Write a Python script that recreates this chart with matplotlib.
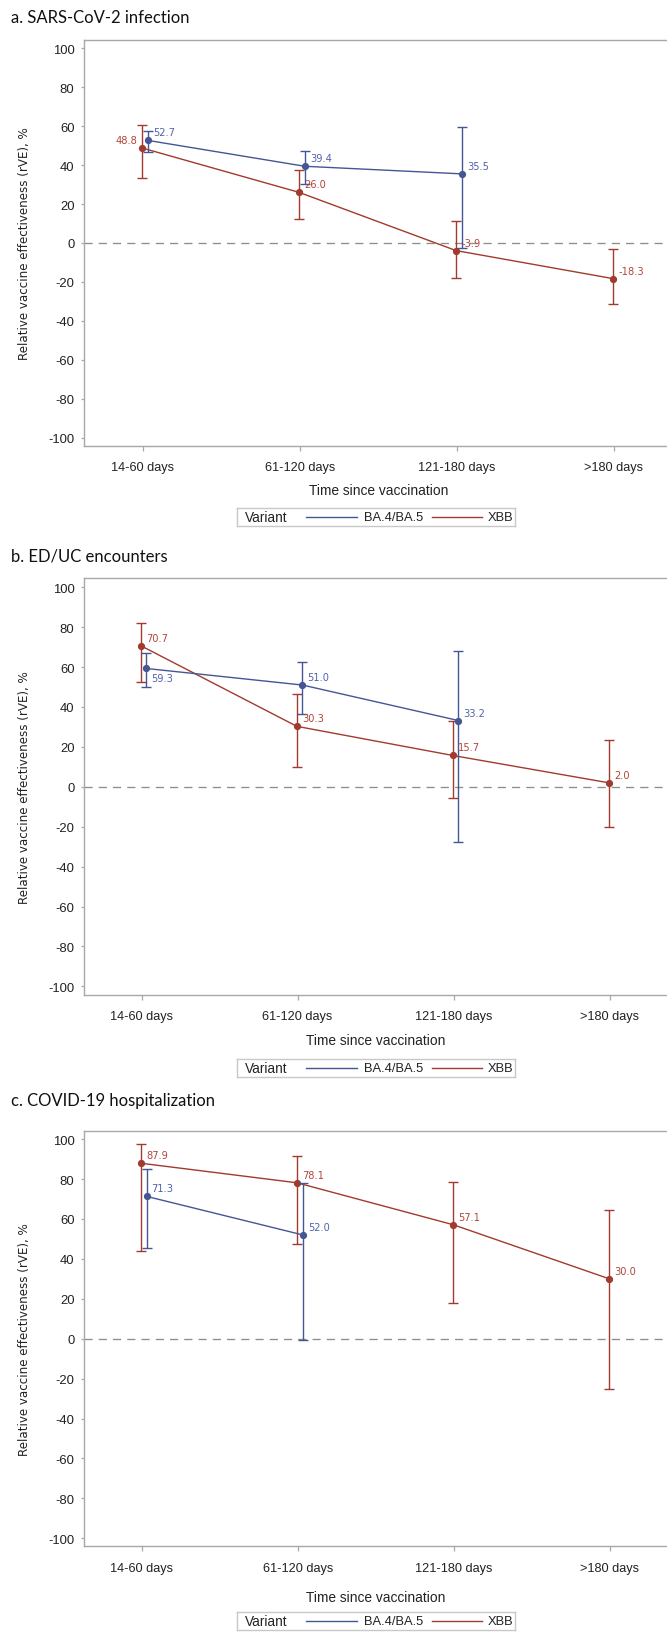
import matplotlib
matplotlib.use("Agg")
import matplotlib.pyplot as plt
import numpy as np
from matplotlib.lines import Line2D

# ---------------- data ----------------
categories = ["14-60 days", "61-120 days", "121-180 days", ">180 days"]
series_names = ["BA.4/BA.5", "XBB"]

titles = ["a. SARS-CoV-2 infection", "b. ED/UC encounters", "c. COVID-19 hospitalization"]

# Panel a
ba_a = [52.7, 39.4, 35.5]
ba_a_lo = [46.9, 30.2, -2.7]
ba_a_hi = [57.5, 47.4, 59.5]
xbb_a = [48.8, 26.0, -3.9, -18.3]
xbb_a_lo = [33.5, 12.1, -18.1, -31.3]
xbb_a_hi = [60.4, 37.5, 11.2, -3.1]

# Panel b
ba_b = [59.3, 51.0, 33.2]
ba_b_lo = [50.0, 36.5, -27.8]
ba_b_hi = [67.1, 62.5, 68.0]
xbb_b = [70.7, 30.3, 15.7, 2.0]
xbb_b_lo = [52.4, 9.8, -5.7, -19.9]
xbb_b_hi = [82.0, 46.5, 33.1, 23.7]

# Panel c
ba_c = [71.3, 52.0]
ba_c_lo = [45.2, -0.5]
ba_c_hi = [85.2, 77.8]
xbb_c = [87.9, 78.1, 57.1, 30.0]
xbb_c_lo = [43.9, 47.6, 17.8, -25.2]
xbb_c_hi = [97.6, 91.7, 78.3, 64.4]

yticks = list(range(-100, 101, 20))

# ---------------- style / layout ----------------
W, H, DPI = 667, 1633, 100
BLUE = "#445694"
RED = "#A23A2E"
BLUE_TXT = "#5163A8"
RED_TXT = "#B0463B"
GRID = "#A8A8A8"
TXT = "#222222"

fig = plt.figure(figsize=(W / DPI, H / DPI), dpi=DPI)
fig.patch.set_facecolor("white")


def box(l, t, r, b):
    return [l / W, 1 - b / H, (r - l) / W, (b - t) / H]


panels = [
    dict(data=(ba_a, ba_a_lo, ba_a_hi, xbb_a, xbb_a_lo, xbb_a_hi),
         top=40.7, bottom=446.7, tick0=142.7, step=157.0, ylim=(-104.1, 104.4),
         title_y=18, ticklab_y=468, xlab_y=491, leg=(509, 527),
         ba_pos=["ur", "ur", "ur"], xbb_pos=["ul", "ur", "ur", "ur"]),
    dict(data=(ba_b, ba_b_lo, ba_b_hi, xbb_b, xbb_b_lo, xbb_b_hi),
         top=579.3, bottom=995.7, tick0=141.5, step=156.0, ylim=(-104.2, 104.5),
         title_y=556, ticklab_y=1017.5, xlab_y=1041, leg=(1060, 1078),
         ba_pos=["lr", "ur", "ur"], xbb_pos=["ur", "ur", "ur", "ur"]),
    dict(data=(ba_c, ba_c_lo, ba_c_hi, xbb_c, xbb_c_lo, xbb_c_hi),
         top=1131.7, bottom=1546.7, tick0=141.6, step=156.1, ylim=(-103.7, 104.2),
         title_y=1101, ticklab_y=1569, xlab_y=1598, leg=(1613, 1631),
         ba_pos=["ur", "ur"], xbb_pos=["ur", "ur", "ur", "ur"]),
]

AX_LEFT = 84.0
BA_OFF = 0.032  # cluster offset of BA.4/BA.5 markers (category units)

OFFS = {"ur": (3.6, 5.8, "left"), "lr": (3.6, -7.2, "left"), "ul": (-3.2, 5.6, "right")}


def label_points(ax, xs, vals, pos, color):
    for xi, v, p in zip(xs, vals, pos):
        dx, dy, ha = OFFS[p]
        ax.annotate(f"{v:.1f}", (xi, v), xytext=(dx, dy), textcoords="offset points",
                    ha=ha, va="center", fontsize=7.1, color=color,
                    family="DejaVu Sans", zorder=6)


for i, p in enumerate(panels):
    ba, ba_lo, ba_hi, xbb, xbb_lo, xbb_hi = p["data"]
    left_off = (p["tick0"] - AX_LEFT) / p["step"]
    xmin, xmax = -left_off, 3 + left_off
    right_px = AX_LEFT + (xmax - xmin) * p["step"]
    ax = fig.add_axes(box(AX_LEFT, p["top"], right_px, p["bottom"]))
    ax.set_xlim(xmin, xmax)
    ax.set_ylim(*p["ylim"])

    ax.axhline(0, color="#8E8E8E", lw=0.95, ls=(0, (6.2, 4.6)), zorder=1)

    xb = np.arange(len(ba)) + BA_OFF
    ba_arr = np.array(ba)
    ax.errorbar(xb, ba_arr, yerr=[ba_arr - np.array(ba_lo), np.array(ba_hi) - ba_arr],
                fmt="-o", color=BLUE, ms=4.2, lw=1.0, elinewidth=1.0,
                capsize=3.6, capthick=1.0, zorder=4)
    xr = np.arange(len(xbb)) - 0.004
    xbb_arr = np.array(xbb)
    ax.errorbar(xr, xbb_arr, yerr=[xbb_arr - np.array(xbb_lo), np.array(xbb_hi) - xbb_arr],
                fmt="-o", color=RED, ms=4.2, lw=1.0, elinewidth=1.0,
                capsize=3.6, capthick=1.0, zorder=3)

    label_points(ax, xb, ba, p["ba_pos"], BLUE_TXT)
    label_points(ax, xr, xbb, p["xbb_pos"], RED_TXT)

    ax.set_xticks(range(len(categories)))
    ax.set_xticklabels([])
    ax.set_yticks(yticks)
    ax.set_yticklabels([str(v) for v in yticks], fontsize=9.4, color=TXT,
                       family="Liberation Sans")
    ax.tick_params(axis="y", direction="out", length=2.4, width=0.9, color=GRID, pad=4.5)
    ax.tick_params(axis="x", direction="out", length=3.6, width=0.9, color=GRID)
    for s in ("left", "bottom", "top"):
        ax.spines[s].set_color(GRID)
        ax.spines[s].set_linewidth(1.0)
    ax.spines["right"].set_visible(False)

    # x tick labels placed at measured height
    for k, c in enumerate(categories):
        xpx = p["tick0"] + k * p["step"]
        fig.text(xpx / W, 1 - p["ticklab_y"] / H, c, ha="center", va="center",
                 fontsize=9.2, color=TXT, family="Liberation Sans")

    fig.text((p["tick0"] + 1.5 * p["step"]) / W,
             1 - p["xlab_y"] / H, "Time since vaccination", ha="center", va="center",
             fontsize=9.9, color=TXT, family="Liberation Sans")

    fig.text(24.7 / W, 1 - ((p["top"] + p["bottom"]) / 2) / H,
             "Relative vaccine effectiveness (rVE), %", rotation=90,
             ha="center", va="center", fontsize=8.6, color=TXT, family="DejaVu Sans")

    fig.text(10.6 / W, 1 - p["title_y"] / H, titles[i], ha="left", va="center",
             fontsize=12, color="#111111", family="Lato")

    # legend box
    lt, lb = p["leg"]
    la = fig.add_axes(box(236.7, lt, 515.0, lb))
    la.set_xlim(236.7, 515.0)
    la.set_ylim(lb, lt)
    la.set_xticks([])
    la.set_yticks([])
    for s in la.spines.values():
        s.set_color("#C8C8C8")
        s.set_linewidth(1.0)
    ym = (lt + lb) / 2
    la.text(244.6, ym, "Variant", ha="left", va="center", fontsize=9.8, color=TXT,
            family="Liberation Sans")
    la.add_line(Line2D([306, 357], [ym, ym], color=BLUE, lw=1.0))
    la.text(364, ym, series_names[0], ha="left", va="center", fontsize=9.3, color=TXT,
            family="Liberation Sans")
    la.add_line(Line2D([432, 481.5], [ym, ym], color=RED, lw=1.0))
    la.text(488, ym, series_names[1], ha="left", va="center", fontsize=9.3, color=TXT,
            family="Liberation Sans")

fig.savefig("out.png", dpi=DPI, facecolor="white")
